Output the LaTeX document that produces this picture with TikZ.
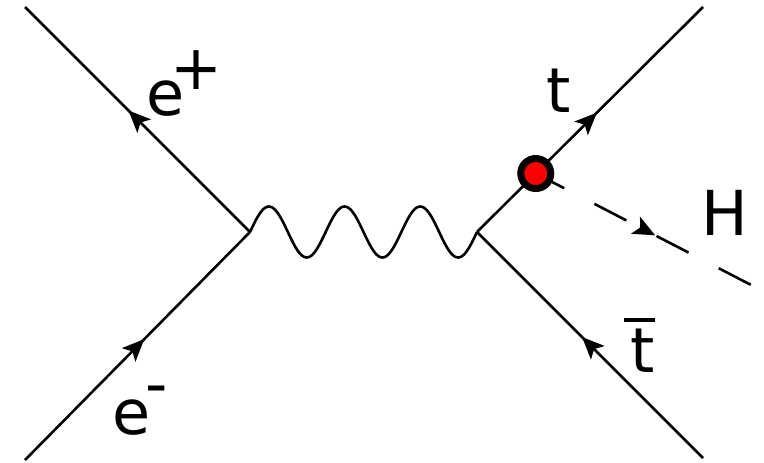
\documentclass[tikz,border=0pt]{standalone}
\usepackage{fontspec}
\setmainfont{DejaVu Sans}
\usetikzlibrary{arrows.meta,decorations.markings,calc}
\begin{document}
\begin{tikzpicture}[x=1pt,y=-1pt,
  line/.style={line width=2.6pt},
  fermion/.style={line, postaction={decorate},
    decoration={markings, mark=at position #1 with {\arrow{Stealth[length=22pt,width=19pt,inset=5pt]}}}},
  photon/.style={line, line join=round},
  scalar/.style={line, dash pattern=on 36pt off 34pt, dash phase=4pt, postaction={decorate},
    decoration={markings, mark=at position #1 with {\arrow{Stealth[length=22pt,width=19pt,inset=5pt]}}}},
  lbl/.style={font=\fontsize{62}{70}\selectfont, inner sep=0pt, anchor=base},
  vtx/.style={circle, draw=black, fill=red, line width=7pt, minimum size=30pt, inner sep=0pt},
]
\useasboundingbox (0,0) rectangle (764,463);
\coordinate (v1) at (250,232);
\coordinate (v2) at (477,232);
\coordinate (a) at (25,7);
\coordinate (b) at (25,460);
\coordinate (c) at (703,7);
\coordinate (d) at (703,458);
\coordinate (h) at ($(v2)!0.26!(c)$);
\coordinate (hend) at (755,287);

\draw[fermion=0.54] (v1) -- (a);
\draw[fermion=0.53] (b) -- (v1);
\draw[fermion=0.53] (v2) -- (c);
\draw[fermion=0.535] (d) -- (v2);
\draw[photon] (v1) plot[domain=0:227, samples=150, smooth] ({250+\x},{232-25.5*sin(\x/75.667*360)}) -- (v2);
\draw[scalar=0.545] (h) -- (hend);
\node[vtx] (dot) at (h) {};

\node[lbl, anchor=base west] (ep) at (146.5,115) {e\kern-14.5pt\raisebox{26pt}{+}};
\node[lbl, anchor=base west] (em) at (112.5,434) {e\kern-5.7pt\raisebox{29pt}{-}};
\node[lbl] (t) at (559,112) {t};
\node[lbl] (tb) at (643,372) {t};
\draw[line width=4.5pt] (624,320) -- (655,320);
\node[lbl] (H) at (724.5,235) {H};
\end{tikzpicture}
\end{document}
